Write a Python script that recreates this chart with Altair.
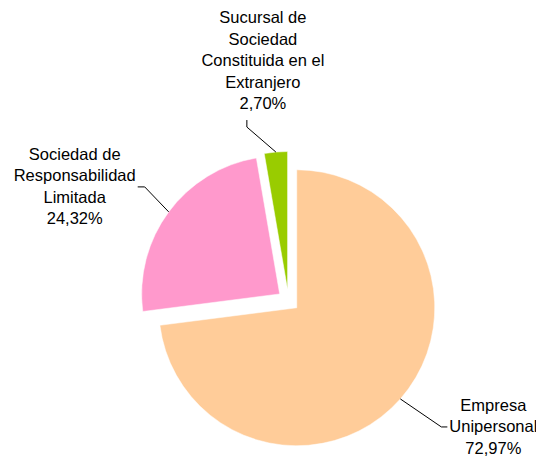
import math
import altair as alt
import pandas as pd

# ---- data ----
categories = [
    "Empresa Unipersonal",
    "Sociedad de Responsabilidad Limitada",
    "Sucursal de Sociedad Constituida en el Extranjero",
]
counts = [27, 9, 1]
label_lines = [
    "Empresa\nUnipersonal",
    "Sociedad de\nResponsabilidad\nLimitada",
    "Sucursal de\nSociedad\nConstituida en el\nExtranjero",
]
colors = ["#FFCC99", "#FF99CC", "#99CC00"]

# ---- layout / style ----
CX, CY = 280.5, 292.5   # pie centre (px, inside chart)
R = 138                 # radius
EXPLODE = 11            # explode distance
elbow_dx = [41, -24, -29]
elbow_dy = [28, -25, -25]
tail_dx = [6, -7, 0]
tail_dy = [0, 0, -7]
text_dx = [52, -70, 16]
text_dy = [-21, -32, -109]   # offset of the first text line from the elbow
line_height = 21.5

total = sum(counts)
rows = []
cum = 0
for i, (cat, c, lab) in enumerate(zip(categories, counts, label_lines)):
    start = cum / total * 2 * math.pi
    cum += c
    end = cum / total * 2 * math.pi
    mid = (start + end) / 2
    ex = CX + EXPLODE * math.sin(mid)
    ey = CY - EXPLODE * math.cos(mid)
    px = ex + R * math.sin(mid)
    py = ey - R * math.cos(mid)
    bx, by = px + elbow_dx[i], py + elbow_dy[i]
    tx, ty = bx + tail_dx[i], by + tail_dy[i]
    pct = c / total * 100
    text = lab + "\n" + f"{pct:.2f}".replace(".", ",") + "%"
    rows.append(dict(idx=i, category=cat, count=c, ex=ex, ey=ey, px=px, py=py,
                     bx=bx, by=by, tx=tx, ty=ty,
                     lx=bx + text_dx[i], ly=by + text_dy[i], text=text))
df = pd.DataFrame(rows)

base = alt.Chart(df)

arcs = base.mark_arc(outerRadius=R, stroke="white", strokeWidth=0.5).encode(
    theta=alt.Theta("count:Q", stack=True),
    order=alt.Order("idx:Q"),
    color=alt.Color("category:N", scale=alt.Scale(domain=categories, range=colors), legend=None),
    x=alt.X("ex:Q", scale=None),
    y=alt.Y("ey:Q", scale=None),
)

lead1 = base.mark_rule(color="black", strokeWidth=1).encode(
    x=alt.X("px:Q", scale=None), y=alt.Y("py:Q", scale=None),
    x2="bx:Q", y2="by:Q",
)
lead2 = base.mark_rule(color="black", strokeWidth=1).encode(
    x=alt.X("bx:Q", scale=None), y=alt.Y("by:Q", scale=None),
    x2="tx:Q", y2="ty:Q",
)

labels = base.mark_text(
    font="Liberation Sans", fontSize=16.5, lineBreak="\n", lineHeight=line_height,
    align="center", baseline="middle", color="black",
).encode(
    x=alt.X("lx:Q", scale=None), y=alt.Y("ly:Q", scale=None), text="text:N",
)

chart = alt.layer(arcs, lead1, lead2, labels).properties(
    width=528, height=451, autosize="none", padding=0,
).configure_view(stroke=None)

chart.save("out.html", embed_options={"renderer": "svg", "actions": False})
